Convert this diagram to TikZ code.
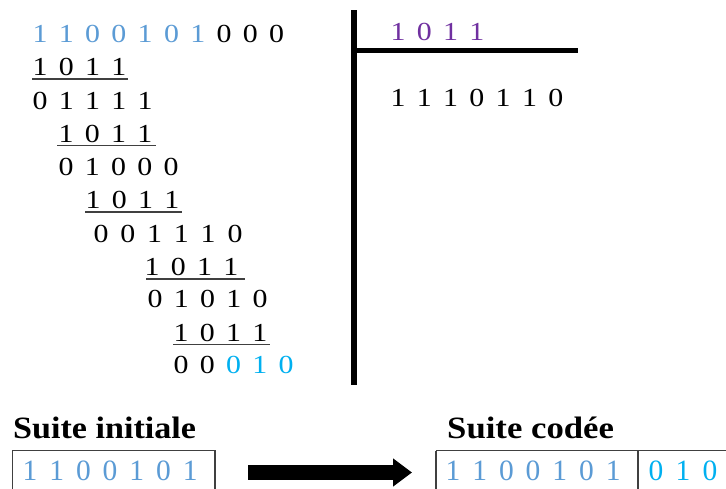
\documentclass[tikz,border=0pt]{standalone}
\usepackage{fontspec}
\setmainfont{Liberation Serif}
\usetikzlibrary{arrows.meta}
\definecolor{lblue}{HTML}{5B9BD5}
\definecolor{cyanb}{HTML}{00B0F0}
\definecolor{purp}{HTML}{7030A0}
\definecolor{rulec}{HTML}{404040}
\newcommand\digrow[5]{%
  \foreach \d/\c [count=\i from 0] in {#5} {
    \node[dig,text=\c] (#1-\i) at ({#2+#4*\i},#3) {\scalebox{1.15}[1]{\d}};
  }}
\newcommand\bdigrow[5]{%
  \foreach \d/\c [count=\i from 0] in {#5} {
    \node[bdig,text=\c] (#1-\i) at ({#2+#4*\i},#3) {\d};
  }}
\begin{document}
\begin{tikzpicture}[x=1pt,y=-1pt,
  dig/.style={inner sep=0pt, anchor=base, font=\fontsize{26}{26}\selectfont},
  bdig/.style={inner sep=0pt, anchor=base, font=\fontsize{29.5}{29.5}\selectfont},
  uline/.style={line width=1.5pt, draw=rulec},
  boxline/.style={draw=rulec, line width=1.5pt},
  title/.style={inner sep=0pt, anchor=base west, font=\fontsize{31}{31}\selectfont\bfseries}]
\useasboundingbox (0,0) rectangle (726,488);
\clip (0,0) rectangle (726,488);
\fill[white] (0,0) rectangle (726,488);
% dividend and steps
\digrow{r0}{40}{42}{26.3}{1/lblue,1/lblue,0/lblue,0/lblue,1/lblue,0/lblue,1/lblue,0/black,0/black,0/black}
\digrow{r1}{40}{75}{26.3}{1/black,0/black,1/black,1/black}
\digrow{r2}{40}{109}{26.3}{0/black,1/black,1/black,1/black,1/black}
\digrow{r3}{66}{142}{26.3}{1/black,0/black,1/black,1/black}
\digrow{r4}{66}{175}{26.3}{0/black,1/black,0/black,0/black,0/black}
\digrow{r5}{93}{208}{26.3}{1/black,0/black,1/black,1/black}
\digrow{r6}{101}{242}{26.8}{0/black,0/black,1/black,1/black,1/black,0/black}
\digrow{r7}{152}{275}{26.3}{1/black,0/black,1/black,1/black}
\digrow{r8}{155}{307}{26.3}{0/black,1/black,0/black,1/black,0/black}
\digrow{r9}{181}{341}{26.3}{1/black,0/black,1/black,1/black}
\digrow{r10}{181}{373}{26.3}{0/black,0/black,0/cyanb,1/cyanb,0/cyanb}
% underlines
\draw[uline] (32,79) -- (128,79);
\draw[uline] (57,145.5) -- (156,145.5);
\draw[uline] (85,212) -- (182,212);
\draw[uline] (146,279) -- (245,279);
\draw[uline] (173,344.5) -- (270,344.5);
% division bars
\coordinate (vtop) at (353.5,10);
\coordinate (vbot) at (353.5,385);
\coordinate (hleft) at (353.5,50.5);
\coordinate (hright) at (578,50.5);
\draw[line width=6pt] (vtop) -- (vbot);
\draw[line width=5pt] (hleft) -- (hright);
% divisor and quotient
\digrow{dv}{398}{40}{26.3}{1/purp,0/purp,1/purp,1/purp}
\digrow{qt}{398}{106}{26.3}{1/black,1/black,1/black,0/black,1/black,1/black,0/black}
% bottom
\node[title] (t1) at (13,438) {\scalebox{1.1}[1]{Suite initiale}};
\node[title] (t2) at (447,438) {\scalebox{1.12}[1]{Suite codée}};
\draw[boxline] (12.7,520) -- (12.7,450.7) -- (215,450.7) -- (215,520);
\draw[boxline] (436,450.7) -- (760,450.7);
\draw[boxline] (436,520) -- (436,450.7);
\draw[boxline] (638,520) -- (638,450.7);
\bdigrow{b1}{30}{480}{26.7}{1/lblue,1/lblue,0/lblue,0/lblue,1/lblue,0/lblue,1/lblue}
\bdigrow{b2}{453}{480}{26.7}{1/lblue,1/lblue,0/lblue,0/lblue,1/lblue,0/lblue,1/lblue}
\bdigrow{b3}{656}{480}{27}{0/cyanb,1/cyanb,0/cyanb}
\coordinate (aS) at (248,472.5);
\coordinate (aE) at (412,472.5);
\draw[line width=15pt, -{Triangle[length=19pt,width=27pt]}] (aS) -- (aE);
\end{tikzpicture}
\end{document}
